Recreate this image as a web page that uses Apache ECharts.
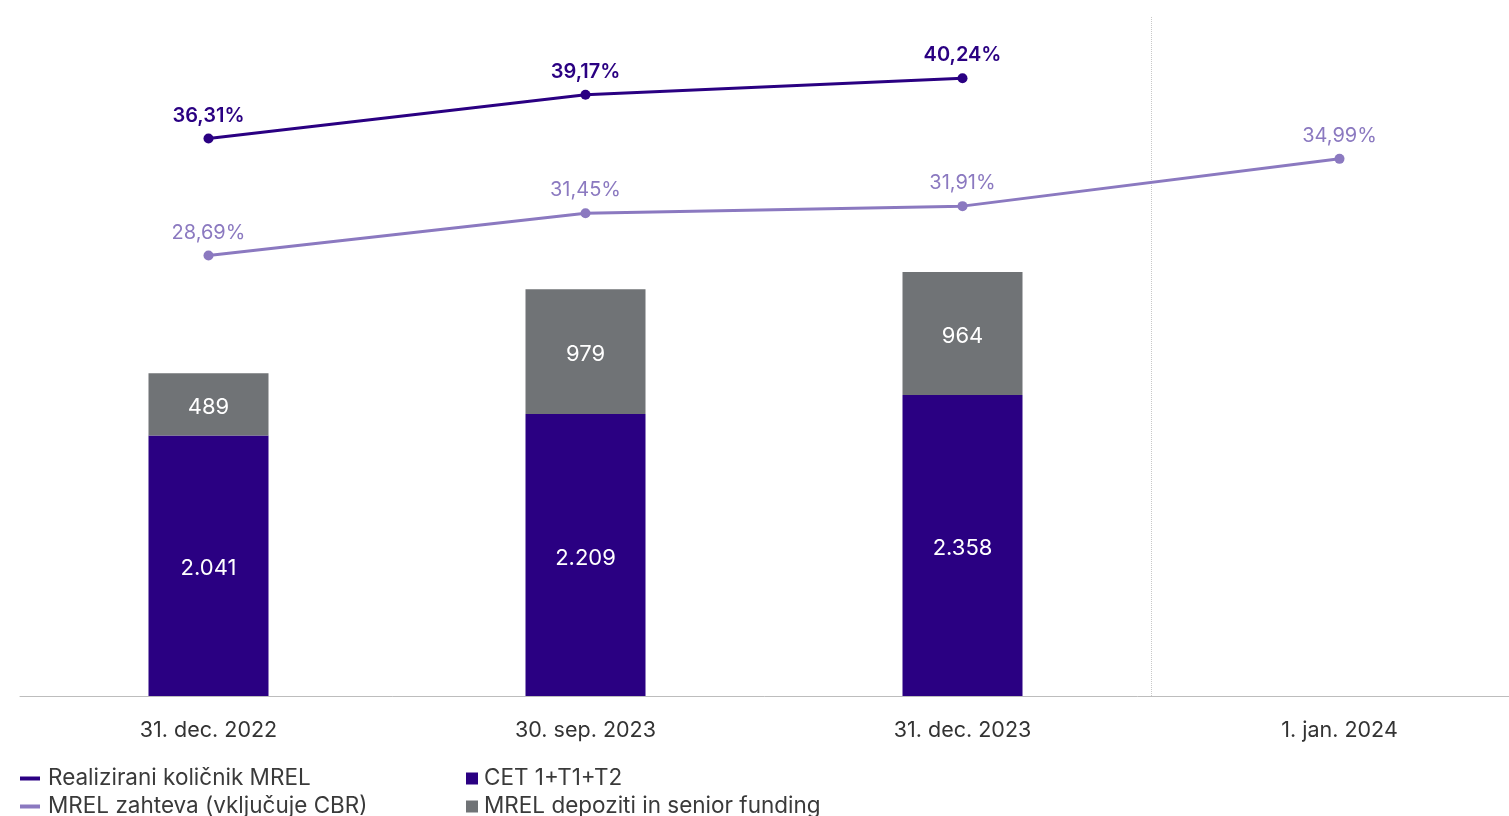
<!DOCTYPE html>
<html><head><meta charset="utf-8">
<script src="https://cdn.jsdelivr.net/npm/echarts@6/dist/echarts.min.js"></script>
<style>html,body{margin:0;padding:0;background:#fff}#c{width:1509px;height:816px}</style>
</head><body><div id="c"></div>
<script>
const categories = ['31. dec. 2022', '30. sep. 2023', '31. dec. 2023', '1. jan. 2024'];
const cetValues = [2041, 2209, 2358, null];
const depositValues = [489, 979, 964, null];
const realizedRatio = [36.31, 39.17, 40.24, null];
const requirementRatio = [28.69, 31.45, 31.91, 34.99];
const seriesNames = ['Realizirani količnik MREL', 'MREL zahteva (vključuje CBR)', 'CET 1+T1+T2', 'MREL depoziti in senior funding'];

const FONT = 'Inter, "Noto Sans", sans-serif';
const C_DARK = '#2a0082', C_LIGHT = '#8b79c0', C_GRAY = '#707376';
const fmtThousands = v => String(v).replace(/\B(?=(\d{3})+(?!\d))/g, '.');
const fmtPct = v => v.toFixed(2).replace('.', ',') + '%';

const legendText = (pad) => ({fontFamily: FONT, fontSize: 22.5, lineHeight: 22, color: '#3a3a3a', padding: [0, 0, 0, pad]});
const chart = echarts.init(document.getElementById('c'), null, {renderer: 'canvas'});
chart.setOption({
  animation: false,
  textStyle: {fontFamily: FONT},
  grid: {left: 20, width: 1508, top: 17, height: 679, containLabel: false, outerBoundsMode: 'none'},
  legend: [
    {data: [seriesNames[0], seriesNames[1]], orient: 'vertical', left: 20, top: 767, height: 120, itemGap: 5,
     itemWidth: 20, itemHeight: 4, icon: 'rect', padding: 0, textStyle: legendText(3)},
    {data: [seriesNames[2], seriesNames[3]], orient: 'vertical', left: 466, top: 767, height: 120, itemGap: 5,
     itemWidth: 12, itemHeight: 12, icon: 'rect', padding: 0, textStyle: legendText(1)}
  ],
  xAxis: [
    {type: 'category', data: categories, boundaryGap: true,
     axisLine: {lineStyle: {color: '#bdbdbd', width: 1}},
     axisTick: {show: false},
     axisLabel: {fontFamily: FONT, fontSize: 21.5, color: '#333', margin: 24},
     splitLine: {show: false}},
    {type: 'value', min: 0, max: 4, interval: 3, position: 'bottom',
     axisLine: {show: false}, axisTick: {show: false}, axisLabel: {show: false},
     splitLine: {show: true, showMinLine: false, showMaxLine: false, lineStyle: {type: 'dotted', color: '#c8c8c8', width: 1}}}
  ],
  yAxis: [
    {type: 'value', min: 0, max: 5321, show: false, splitLine: {show: false}},
    {type: 'value', min: 0, max: 44.23, show: false, splitLine: {show: false}}
  ],
  series: [
    {name: seriesNames[2], type: 'bar', stack: 'a', data: cetValues, barWidth: 120, yAxisIndex: 0,
     itemStyle: {color: C_DARK},
     label: {show: true, position: 'inside', offset: [0, 3], color: '#fff', fontSize: 22, fontFamily: FONT, formatter: p => fmtThousands(p.value)}},
    {name: seriesNames[3], type: 'bar', stack: 'a', data: depositValues, barWidth: 120, yAxisIndex: 0,
     itemStyle: {color: C_GRAY},
     label: {show: true, position: 'inside', offset: [0, 3], color: '#fff', fontSize: 22, fontFamily: FONT, formatter: p => fmtThousands(p.value)}},
    {name: seriesNames[0], type: 'line', data: realizedRatio, yAxisIndex: 1,
     symbol: 'circle', symbolSize: 10, lineStyle: {width: 3, color: C_DARK}, itemStyle: {color: C_DARK},
     label: {show: true, position: 'top', distance: 8, color: C_DARK, fontSize: 20, fontWeight: 600, fontFamily: FONT, formatter: p => fmtPct(p.value)}},
    {name: seriesNames[1], type: 'line', data: requirementRatio, yAxisIndex: 1,
     symbol: 'circle', symbolSize: 10, lineStyle: {width: 3, color: C_LIGHT}, itemStyle: {color: C_LIGHT},
     label: {show: true, position: 'top', distance: 8, color: C_LIGHT, fontSize: 20, fontFamily: FONT, formatter: p => fmtPct(p.value)}}
  ]
});
</script></body></html>
